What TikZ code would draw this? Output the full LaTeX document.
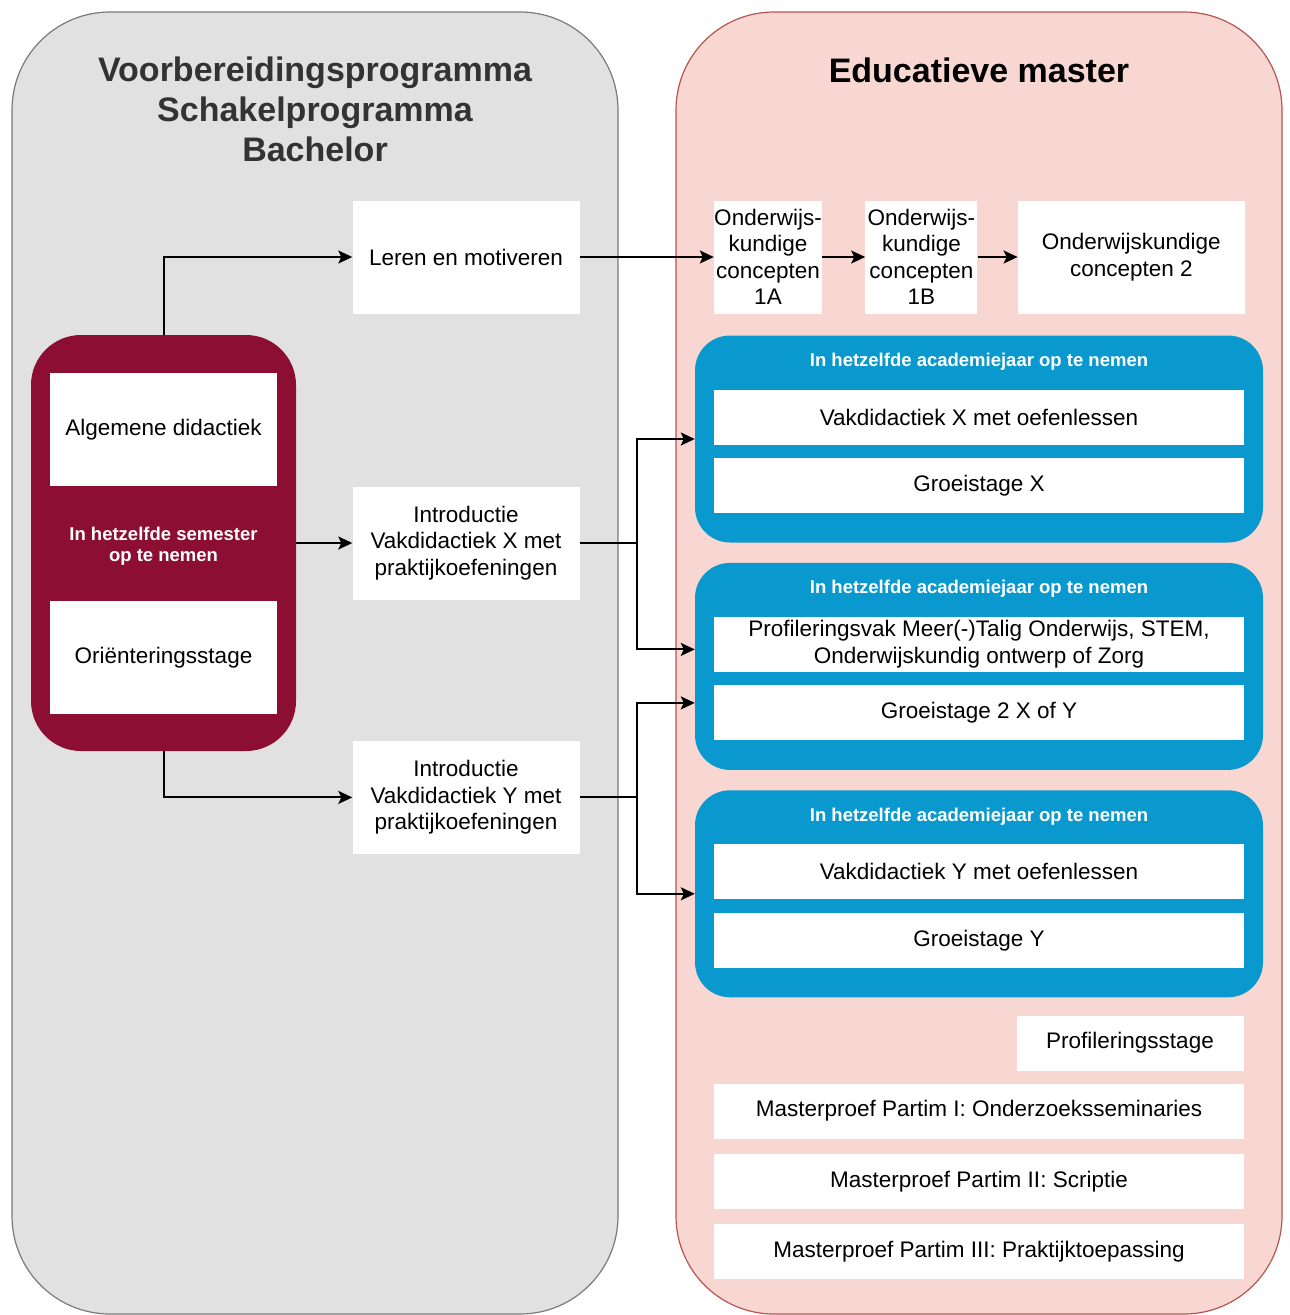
\documentclass[tikz,border=0pt]{standalone}
\usepackage{fontspec}
\setmainfont{Liberation Sans}
\usetikzlibrary{positioning,arrows.meta}
\definecolor{greyfill}{HTML}{E1E1E1}
\definecolor{greyline}{HTML}{7A7A7A}
\definecolor{pinkfill}{HTML}{F8D7D3}
\definecolor{pinkline}{HTML}{B85450}
\definecolor{maroon}{HTML}{8C0E32}
\definecolor{edublue}{HTML}{0A99CE}
\definecolor{titlegrey}{HTML}{333333}
\newcommand{\bodyfont}{\fontsize{22.5}{26.5}\selectfont}
\newcommand{\titlefont}{\fontsize{34}{40}\selectfont\bfseries}
\newcommand{\tagfont}{\fontsize{18.5}{21}\selectfont\bfseries}

\begin{document}
\begin{tikzpicture}[x=1pt, y=-1pt,
panel/.style={rounded corners=98pt, line width=1.2pt, minimum width=606pt, minimum height=1302pt},
course/.style={fill=white, text=black, font=\bodyfont, align=center, inner sep=0pt, minimum width=227pt, minimum height=113pt},
small/.style={course, minimum width=108pt},
strip/.style={course, minimum width=530pt, minimum height=55pt},
group/.style={fill=edublue, rounded corners=35pt, inner sep=0pt, minimum width=568pt, minimum height=207pt},
tag/.style={text=white, font=\tagfont, align=center},
arr/.style={-{Stealth[length=14pt, width=13pt, inset=3pt]}, line width=2pt, black}
]
\useasboundingbox (0,0) rectangle (1290,1315);
%Panels
\node[panel, fill=greyfill, draw=greyline]  (prep)    at (315,663)  {};
\node[panel, fill=pinkfill, draw=pinkline]  (master)  at (979,663)  {};
\node[font=\titlefont, text=titlegrey, align=center] (preptitle) at (315,109) {Voorbereidingsprogramma\\Schakelprogramma\\Bachelor};
\node[font=\titlefont, text=black]          (mastertitle) at (979,70) {Educatieve master};
%Left column
\node[course]    (leren)   at (466,257)                 {Leren en motiveren};
\node[fill=maroon, rounded corners=50pt, inner sep=0pt, minimum width=265pt, minimum height=416pt] (sem) at (163.5,543) {};
\node[course]    (algdid)  [below=38pt of sem.north]    {Algemene didactiek};
\node[course]    (orient)  [above=37pt of sem.south]    {Oriënteringsstage};
\node[tag]       (semtag)  at ([yshift=-3pt]sem.center) {In hetzelfde semester\\op te nemen};
\node[course]    (introx)  at (leren |- sem)            {Introductie\\Vakdidactiek X met\\praktijkoefeningen};
\node[course]    (introy)  [below=141pt of introx]      {Introductie\\Vakdidactiek Y met\\praktijkoefeningen};
%Right column
\node[small]     (k1a)     at (768,257)                 {Onderwijs-\\kundige\\concepten\\1A};
\node[small, minimum width=112pt] (k1b) [right=43pt of k1a] {Onderwijs-\\kundige\\concepten\\1B};
\node[course]    (k2)      [right=40pt of k1b]          {Onderwijskundige\\concepten 2};
\node[group]     (blue1)   at (979,439)                 {};
\node[group]     (blue2)   [below=20pt of blue1]        {};
\node[group]     (blue3)   [below=20pt of blue2]        {};
\node[tag]       (tag1)    [below=14pt of blue1.north]  {In hetzelfde academiejaar op te nemen};
\node[tag]       (tag2)    [below=14pt of blue2.north]  {In hetzelfde academiejaar op te nemen};
\node[tag]       (tag3)    [below=14pt of blue3.north]  {In hetzelfde academiejaar op te nemen};
\node[strip]     (vakx)    [below=54pt of blue1.north]  {Vakdidactiek X met oefenlessen};
\node[strip]     (groeix)  [below=13pt of vakx]         {Groeistage X};
\node[strip]     (profvak) [below=54pt of blue2.north]  {Profileringsvak Meer(-)Talig Onderwijs, STEM,\\Onderwijskundig ontwerp of Zorg};
\node[strip]     (groei2)  [below=13pt of profvak]      {Groeistage 2 X of Y};
\node[strip]     (vaky)    [below=54pt of blue3.north]  {Vakdidactiek Y met oefenlessen};
\node[strip]     (groeiy)  [below=13pt of vaky]         {Groeistage Y};
\node[course, minimum height=55pt] (profstage) at (1130,1043) {Profileringsstage};
\node[strip]     (mp1)     at (979,1111)                {Masterproef Partim I: Onderzoeksseminaries};
\node[strip]     (mp2)     [below=15pt of mp1]          {Masterproef Partim II: Scriptie};
\node[strip]     (mp3)     [below=15pt of mp2]          {Masterproef Partim III: Praktijktoepassing};
%Lines
\draw[arr] (sem.north) |- (leren.west);
\draw[arr] (leren) -- (k1a);
\draw[arr] (k1a) -- (k1b);
\draw[arr] (k1b) -- (k2);
\draw[arr] (sem) -- (introx);
\draw[arr] (sem.south) |- (introy.west);
\draw[arr] (introx.east) -- ++(57,0) |- (blue1.west);
\draw[arr] (introx.east) -- ++(57,0) |- ([yshift=17pt]blue2.west);
\draw[arr] (introy.east) -- ++(57,0) |- ([yshift=-36.5pt]blue2.west);
\draw[arr] (introy.east) -- ++(57,0) |- (blue3.west);
\end{tikzpicture}
\end{document}
